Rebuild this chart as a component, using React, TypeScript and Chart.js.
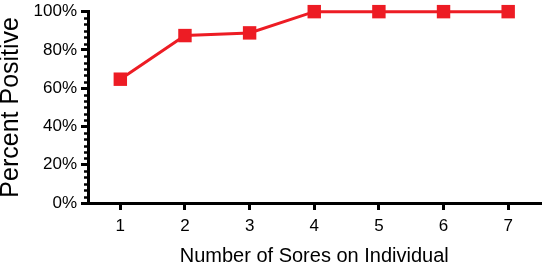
import React, { useEffect, useRef } from "react";
import { Chart, registerables } from "chart.js";

Chart.register(...registerables);

const categories = ["1", "2", "3", "4", "5", "6", "7"];
const percentPositive = [64.7, 87.5, 88.9, 100, 100, 100, 100];
const yMajorTicks = [0, 20, 40, 60, 80, 100];
const yMinorPerInterval = 5;

const RED = "rgb(237,28,36)";
const FONT = "'Liberation Sans', Arial, Helvetica, sans-serif";

const minorTicksPlugin = {
  id: "minorTicks",
  afterDraw(chart: any) {
    const y = chart.scales.y;
    const ctx = chart.ctx;
    ctx.save();
    ctx.strokeStyle = "#000";
    ctx.lineWidth = 2.5;
    for (let i = 0; i < yMajorTicks.length - 1; i++) {
      const a = yMajorTicks[i];
      const b = yMajorTicks[i + 1];
      for (let k = 1; k <= yMinorPerInterval; k++) {
        const v = a + ((b - a) * k) / (yMinorPerInterval + 1);
        const py = Math.round(y.getPixelForValue(v)) + 0.5;
        ctx.beginPath();
        ctx.moveTo(y.right - 4, py);
        ctx.lineTo(y.right, py);
        ctx.stroke();
      }
    }
    ctx.restore();
  },
};

export default function App() {
  const ref = useRef<HTMLCanvasElement>(null);
  useEffect(() => {
    document.body.style.margin = "0";
    const chart = new Chart(ref.current!, {
      type: "line",
      data: {
        labels: categories,
        datasets: [
          {
            data: percentPositive,
            borderColor: RED,
            backgroundColor: RED,
            borderWidth: 3,
            pointStyle: "rect",
            pointRadius: 9.5,
            pointBorderWidth: 0,
            pointBackgroundColor: RED,
            clip: false as any,
            tension: 0,
          },
        ],
      },
      options: {
        animation: false,
        responsive: false,
        layout: { padding: { top: 2, right: 3, left: 0, bottom: 0 } },
        plugins: { legend: { display: false }, tooltip: { enabled: false } },
        scales: {
          x: {
            type: "category",
            offset: true,
            border: { display: true, color: "#000", width: 3 },
            grid: {
              display: true,
              drawOnChartArea: false,
              drawTicks: true,
              tickLength: 7,
              lineWidth: 3,
              color: "#000",
              offset: false,
            },
            ticks: {
              color: "#000",
              font: { family: FONT, size: 17 },
              padding: 6,
              maxRotation: 0,
            },
            title: {
              display: true,
              text: "Number of Sores on Individual",
              color: "#000",
              font: { family: FONT, size: 20, lineHeight: 1 },
              padding: { top: 0, bottom: 0 },
            },
            afterFit: (s: any) => {
              s.height = 63;
            },
          },
          y: {
            type: "linear",
            min: 0,
            max: 100,
            border: { display: true, color: "#000", width: 3 },
            grid: {
              display: true,
              drawOnChartArea: false,
              drawTicks: true,
              tickLength: 7,
              lineWidth: 3,
              color: "#000",
            },
            ticks: {
              stepSize: 20,
              color: "#000",
              font: { family: FONT, size: 17, lineHeight: 0.9 },
              padding: 4,
              callback: (v: any) => v + "%",
            },
            title: {
              display: true,
              text: "Percent Positive",
              color: "#000",
              font: { family: FONT, size: 25, lineHeight: 0.9 },
              padding: { top: 0, bottom: 0 },
            },
            afterFit: (s: any) => {
              s.width = 88;
            },
          },
        },
      },
      plugins: [minorTicksPlugin],
    });
    return () => chart.destroy();
  }, []);
  return (
    <div style={{ position: "absolute", left: 0, top: 0, width: 550, height: 266 }}>
      <canvas ref={ref} width={550} height={266} style={{ width: 550, height: 266 }} />
    </div>
  );
}
